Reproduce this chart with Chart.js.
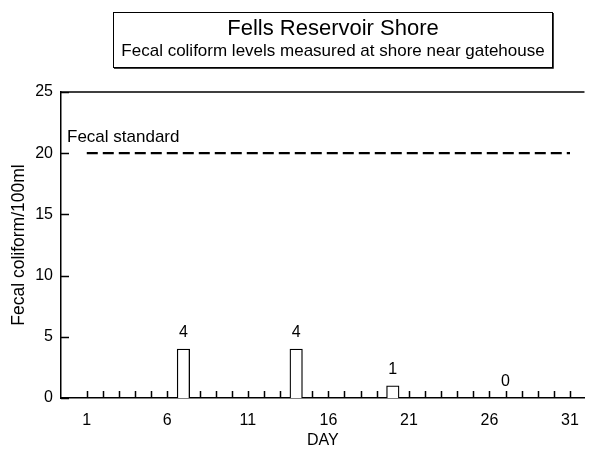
<!DOCTYPE html>
<html>
<head>
<meta charset="utf-8">
<title>Fells Reservoir Shore</title>
<script src="https://cdn.jsdelivr.net/npm/chart.js@4"></script>
<style>
  html, body { margin: 0; padding: 0; background: #fff; }
  canvas { display: block; }
</style>
</head>
<body>
<canvas id="chart" width="592" height="449"></canvas>
<script>
// Fells Reservoir Shore - fecal coliform samples
const FONT = '"Liberation Sans", Arial, sans-serif';

const titleText = 'Fells Reservoir Shore';
const subtitleText = 'Fecal coliform levels measured at shore near gatehouse';
const standardLabel = 'Fecal standard';

// sampled days and measured counts
const days = [7, 14, 20, 27];
const counts = [4, 4, 1, 0];

// fecal standard reference line
const standardLevel = 20;
const standardDays = [1, 31];

// axis ticks
const dayLabels = [1, 6, 11, 16, 21, 26, 31];
const dayMarks = [1,2,3,4,5,6,7,8,9,10,11,12,13,14,15,16,17,18,19,20,21,22,23,24,25,26,27,28,29,30,31];
const yTicks = [0, 5, 10, 15, 20, 25];

// inward tick marks + frame top (under the bars), labels and title box on top
const decor = {
  id: 'decor',
  beforeDatasetsDraw(chart) {
    const { ctx, chartArea: a, scales: { x, y } } = chart;
    ctx.save();
    ctx.strokeStyle = '#000';
    ctx.lineWidth = 1.5;
    ctx.beginPath();
    ctx.moveTo(a.left, a.top);
    ctx.lineTo(a.right, a.top);
    dayMarks.forEach(d => {
      const px = Math.round(x.getPixelForValue(d)) + 0.5;
      ctx.moveTo(px, a.bottom);
      ctx.lineTo(px, a.bottom - 7);
    });
    yTicks.forEach(v => {
      const py = Math.round(y.getPixelForValue(v)) + 0.5;
      ctx.moveTo(a.left, py);
      ctx.lineTo(a.left + 8, py);
    });
    ctx.stroke();
    ctx.restore();
  },
  afterDraw(chart) {
    const { ctx, chartArea: a, scales: { x, y } } = chart;
    ctx.save();
    ctx.fillStyle = '#000';
    ctx.strokeStyle = '#000';
    ctx.font = '16px ' + FONT;
    ctx.textAlign = 'center';
    ctx.textBaseline = 'middle';
    days.forEach((d, i) => {
      ctx.fillText(String(counts[i]), x.getPixelForValue(d), y.getPixelForValue(counts[i]) - 16);
    });

    ctx.textAlign = 'left';
    ctx.font = '17px ' + FONT;
    ctx.fillText(standardLabel, a.left + 6, y.getPixelForValue(standardLevel) - 16);

    // title box
    ctx.lineWidth = 1;
    ctx.strokeRect(113.5, 12.5, 439, 55);
    ctx.lineWidth = 1.5;
    ctx.beginPath();
    ctx.moveTo(553, 13); ctx.lineTo(553, 68); ctx.lineTo(114, 68);
    ctx.stroke();
    ctx.textAlign = 'center';
    ctx.font = '22px ' + FONT;
    ctx.fillText(titleText, 333, 29);
    ctx.font = '17px ' + FONT;
    ctx.fillText(subtitleText, 333, 51);
    ctx.restore();
  }
};

new Chart(document.getElementById('chart'), {
  type: 'bar',
  data: {
    datasets: [
      {
        type: 'line',
        data: standardDays.map(d => ({ x: d, y: standardLevel })),
        borderColor: '#000',
        borderWidth: 2.2,
        borderDash: [11, 5],
        pointRadius: 0,
        fill: false,
      },
      {
        type: 'bar',
        data: days.map((d, i) => ({ x: d, y: counts[i] })),
        backgroundColor: '#fff',
        borderColor: '#000',
        borderWidth: 1.3,
        barThickness: 12.5,
      },
    ],
  },
  options: {
    responsive: false,
    animation: false,
    layout: { padding: { top: 92, right: 4, left: 0, bottom: 0 } },
    plugins: {
      legend: { display: false },
      tooltip: { enabled: false },
    },
    scales: {
      x: {
        type: 'linear',
        offset: false,
        min: -0.6,
        max: 31.9,
        afterBuildTicks: (scale) => { scale.ticks = dayLabels.map(v => ({ value: v })); },
        afterFit: (scale) => { scale.height = 51; },
        grid: { display: false, drawTicks: false, offset: false },
        border: { display: true, color: '#000', width: 1.5 },
        ticks: { color: '#000', font: { family: FONT, size: 16 }, padding: 13, maxRotation: 0, autoSkip: false },
        title: { display: true, text: 'DAY', color: '#000', font: { family: FONT, size: 16, lineHeight: 1 }, padding: { top: 0, bottom: 0 } },
      },
      y: {
        min: 0,
        max: 25,
        afterBuildTicks: (scale) => { scale.ticks = yTicks.map(v => ({ value: v })); },
        afterFit: (scale) => { scale.width = 61; },
        grid: { display: false, drawTicks: false },
        border: { display: true, color: '#000', width: 1.5 },
        ticks: { color: '#000', font: { family: FONT, size: 16 }, padding: 8 },
        title: { display: true, text: 'Fecal coliform/100ml', color: '#000', font: { family: FONT, size: 17.5, lineHeight: 1.2 }, padding: { top: 8.5, bottom: 0 } },
      },
    },
  },
  plugins: [decor],
});
</script>
</body>
</html>
